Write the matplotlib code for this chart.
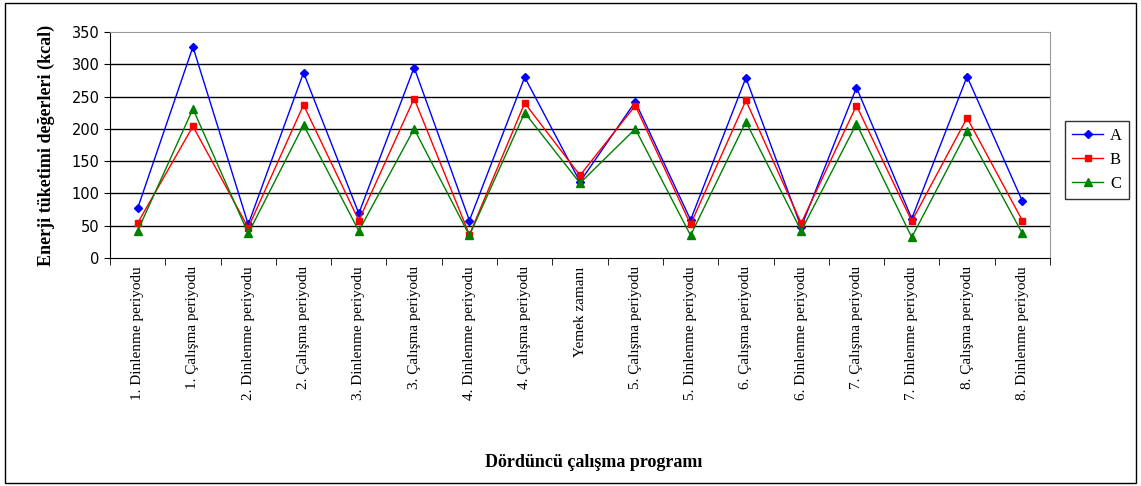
import matplotlib.pyplot as plt
from matplotlib.patches import Rectangle

categories = ['1. Dinlenme periyodu', '1. Çalışma periyodu', '2. Dinlenme periyodu', '2. Çalışma periyodu',
              '3. Dinlenme periyodu', '3. Çalışma periyodu', '4. Dinlenme periyodu', '4. Çalışma periyodu',
              'Yemek zamanı', '5. Çalışma periyodu', '5. Dinlenme periyodu', '6. Çalışma periyodu',
              '6. Dinlenme periyodu', '7. Çalışma periyodu', '7. Dinlenme periyodu', '8. Çalışma periyodu',
              '8. Dinlenme periyodu']
a_vals = [77, 327, 52, 287, 69, 295, 58, 280, 118, 242, 59, 279, 48, 264, 61, 281, 88]
b_vals = [54, 204, 47, 237, 58, 247, 36, 240, 128, 236, 52, 244, 54, 236, 57, 217, 58]
c_vals = [42, 231, 38, 206, 42, 200, 35, 225, 116, 200, 35, 211, 42, 208, 32, 196, 38]
yticks = [0, 50, 100, 150, 200, 250, 300, 350]

fig = plt.figure(figsize=(11.41, 4.86), dpi=100)
fig.patches.append(Rectangle((0.004, 0.006), 0.992, 0.988, transform=fig.transFigure,
                             fill=False, edgecolor='black', linewidth=1))
ax = fig.add_axes([110 / 1141, 1 - 258 / 486, 940 / 1141, 226 / 486])

x = list(range(len(categories)))
ax.plot(x, a_vals, color='blue', marker='D', markersize=4, linewidth=1, label='A')
ax.plot(x, b_vals, color='red', marker='s', markersize=5, linewidth=1, label='B')
ax.plot(x, c_vals, color='green', marker='^', markersize=6, linewidth=1, label='C')

ax.set_xlim(-0.5, len(categories) - 0.5)
ax.set_ylim(0, 350)
ax.set_yticks(yticks)
for t in yticks[1:-1]:
    ax.axhline(t, color='black', linewidth=1, zorder=0)
ax.tick_params(axis='y', labelsize=10.5, direction='out', length=4)

ax.set_xticks(x)
ax.set_xticklabels(categories, rotation=90, fontsize=11, family='Liberation Serif')
ax.set_xticks([i - 0.5 for i in range(len(categories) + 1)], minor=True)
ax.tick_params(axis='x', which='major', length=0, pad=6)
ax.tick_params(axis='x', which='minor', length=5, direction='out')

for side in ['top', 'right']:
    ax.spines[side].set_color('#999999')
for side in ['left', 'bottom']:
    ax.spines[side].set_color('black')

ax.set_ylabel('Enerji tüketimi değerleri (kcal)', fontsize=13, fontweight='bold',
              family='Liberation Serif', labelpad=12)
fig.text(0.52, 0.04, 'Dördüncü çalışma programı', fontsize=13, fontweight='bold',
         family='Liberation Serif', ha='center')

leg = fig.legend(loc='center left', bbox_to_anchor=(1065 / 1141, 1 - 160 / 486), frameon=True,
                 fancybox=False, edgecolor='black', prop={'family': 'Liberation Serif', 'size': 12},
                 handlelength=1.9, handletextpad=0.4, borderpad=0.4, labelspacing=0.5,
                 borderaxespad=0)
leg.get_frame().set_linewidth(1)

fig.savefig('out.png', dpi=100)
